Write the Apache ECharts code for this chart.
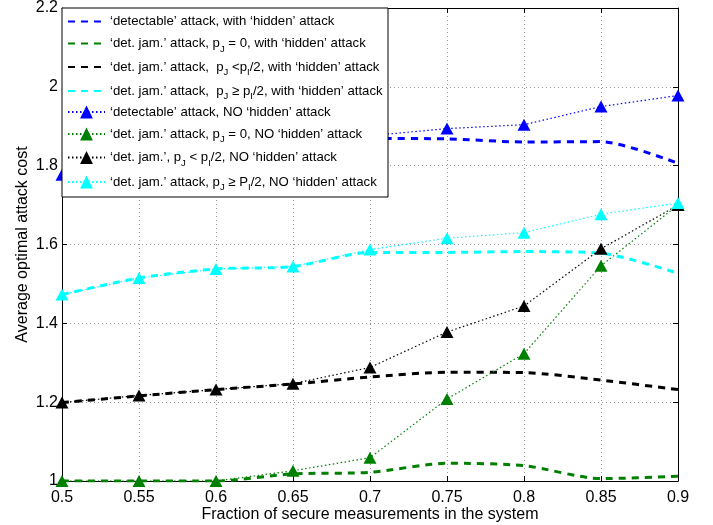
<!DOCTYPE html>
<html>
<head>
<meta charset="utf-8">
<script src="https://cdn.jsdelivr.net/npm/echarts/dist/echarts.min.js"></script>
<style>
html,body{margin:0;padding:0;background:#fff;}
#chart{width:713px;height:525px;}
</style>
</head>
<body>
<div id="chart"></div>
<script>
// ---- data ----
const xCats = ['0.5','0.55','0.6','0.65','0.7','0.75','0.8','0.85','0.9'];

const detHidden     = [1.778, 1.800, 1.822, 1.845, 1.869, 1.868, 1.860, 1.861, 1.806];
const jam0Hidden    = [1.000, 1.000, 1.000, 1.018, 1.022, 1.045, 1.039, 1.006, 1.012];
const jamLowHidden  = [1.199, 1.216, 1.232, 1.246, 1.264, 1.276, 1.275, 1.256, 1.232];
const jamHighHidden = [1.473, 1.515, 1.538, 1.544, 1.580, 1.580, 1.582, 1.578, 1.527];

const detNo     = [1.777, 1.800, 1.825, 1.850, 1.876, 1.894, 1.904, 1.950, 1.978];
const jam0No    = [1.000, 1.000, 1.000, 1.026, 1.059, 1.208, 1.323, 1.546, 1.700];
const jamLowNo  = [1.199, 1.217, 1.232, 1.247, 1.288, 1.378, 1.444, 1.589, 1.700];
const jamHighNo = [1.473, 1.515, 1.538, 1.544, 1.587, 1.616, 1.630, 1.677, 1.705];

const seriesNames = [
  'detectable, with hidden',
  'jam p0, with hidden',
  'jam low, with hidden',
  'jam high, with hidden',
  'detectable, NO hidden',
  'jam p0, NO hidden',
  'jam low, NO hidden',
  'jam high, NO hidden'
];
const legendLabels = [
  '‘detectable’ attack, with ‘hidden’ attack',
  '‘det. jam.’ attack, p{s|J} = 0, with ‘hidden’ attack',
  '‘det. jam.’ attack,  p{s|J} <p{s|I}/2, with ‘hidden’ attack',
  '‘det. jam.’ attack,  p{s|J} ≥ p{s|I}/2, with ‘hidden’ attack',
  '‘detectable’ attack, NO ‘hidden’ attack',
  '‘det. jam.’ attack, p{s|J} = 0, NO ‘hidden’ attack',
  '‘det. jam.’, p{s|J} < p{s|I}/2, NO ‘hidden’ attack',
  '‘det. jam.’ attack, p{s|J} ≥ P{s|I}/2, NO ‘hidden’ attack'
];
const seriesData = [detHidden, jam0Hidden, jamLowHidden, jamHighHidden, detNo, jam0No, jamLowNo, jamHighNo];
const colors = ['#0000ff', '#008000', '#000000', '#00ffff', '#0000ff', '#008000', '#000000', '#00ffff'];

// ---- layout / style ----
const FONT = '"Liberation Sans", Arial, Helvetica, sans-serif';
const legendRowCenters = [21.5, 41, 64.5, 88.5, 112, 131.5, 155, 179.5];

const series = seriesData.map((d, i) => {
  const hidden = i < 4;
  return {
    name: seriesNames[i],
    type: 'line',
    data: d,
    xAxisIndex: 0,
    yAxisIndex: 0,
    smooth: hidden ? 0.25 : false,
    symbol: hidden ? 'none' : 'triangle',
    symbolSize: [13, 12],
    showSymbol: !hidden,
    color: colors[i],
    itemStyle: { color: colors[i] },
    lineStyle: hidden
      ? { color: colors[i], width: 3, type: [7, 6] }
      : { color: colors[i], width: 1.2, type: [1.5, 2.5] },
    emphasis: { disabled: true },
    z: 2
  };
});

const legends = seriesNames.map((n, i) => {
  const lg = {
    data: [n],
    left: 67,
    top: legendRowCenters[i] - 8,
    orient: 'vertical',
    padding: 0,
    itemWidth: 37,
    itemHeight: 16,
    itemGap: 0,
    selectedMode: false,
    z: 20,
    formatter: () => legendLabels[i],
    textStyle: {
      fontFamily: FONT,
      fontSize: 13.2,
      lineHeight: 16,
      color: '#000',
      rich: {
        s: { fontFamily: FONT, fontSize: 9.5, lineHeight: 4, padding: [11, 0, 0, 0], color: '#000' }
      }
    }
  };
  if (i < 4) {
    lg.itemStyle = { opacity: 0, borderWidth: 0 };
  }
  return lg;
});

const gridLine = { show: true, lineStyle: { color: '#999', width: 1, type: [1, 3] } };
const axisLine = { show: true, onZero: false, lineStyle: { color: '#000', width: 1 } };

const option = {
  animation: false,
  backgroundColor: '#fff',
  grid: { left: 62, right: 35, top: 8, bottom: 44, containLabel: false, outerBoundsMode: 'none' },
  xAxis: [
    {
      type: 'category', data: xCats, boundaryGap: false, position: 'bottom',
      axisLine: axisLine,
      axisTick: { show: true, inside: true, length: 5, lineStyle: { color: '#000' } },
      axisLabel: { color: '#000', fontFamily: FONT, fontSize: 16, margin: 9 },
      splitLine: gridLine,
      name: 'Fraction of secure measurements in the system',
      nameLocation: 'middle', nameGap: 26, nameMoveOverlap: false,
      nameTextStyle: { color: '#000', fontFamily: FONT, fontSize: 16 }
    },
    {
      type: 'category', data: xCats, boundaryGap: false, position: 'top',
      axisLine: axisLine,
      axisTick: { show: true, inside: true, length: 5, lineStyle: { color: '#000' } },
      axisLabel: { show: false },
      splitLine: { show: false }
    }
  ],
  yAxis: [
    {
      type: 'value', min: 1, max: 2.2, interval: 0.2, position: 'left',
      axisLine: axisLine,
      axisTick: { show: true, inside: true, length: 5, lineStyle: { color: '#000' } },
      axisLabel: { color: '#000', fontFamily: FONT, fontSize: 16, margin: 4 },
      splitLine: gridLine,
      name: 'Average optimal attack cost',
      nameLocation: 'middle', nameGap: 31, nameMoveOverlap: false,
      nameTextStyle: { color: '#000', fontFamily: FONT, fontSize: 16 }
    },
    {
      type: 'value', min: 1, max: 2.2, interval: 0.2, position: 'right',
      axisLine: axisLine,
      axisTick: { show: true, inside: true, length: 5, lineStyle: { color: '#000' } },
      axisLabel: { show: false },
      splitLine: { show: false }
    }
  ],
  legend: legends,
  graphic: [{
    type: 'rect',
    z: 10,
    shape: { x: 62, y: 8, width: 326, height: 189 },
    style: { fill: '#fff', stroke: '#000', lineWidth: 1 }
  }],
  series: series
};

const chart = echarts.init(document.getElementById('chart'), null, { renderer: 'canvas' });
chart.setOption(option);
</script>
</body>
</html>
